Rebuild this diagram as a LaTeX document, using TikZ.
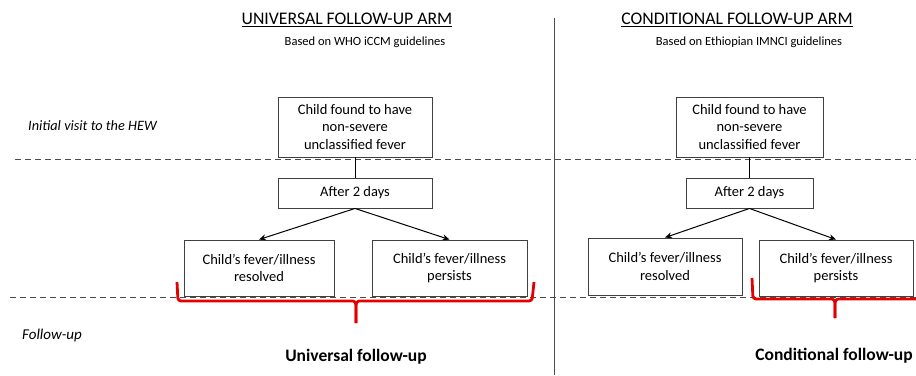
\documentclass[tikz,border=0pt]{standalone}
\usepackage{fontspec}
\setmainfont{Carlito}
\usetikzlibrary{arrows.meta}
\begin{document}
\begin{tikzpicture}[x=1pt,y=-1pt,
  box/.style={draw=black!75,line width=0.9pt,fill=white,align=center,font=\fontsize{14.5}{17.5}\selectfont,inner sep=0pt},
  conn/.style={black,line width=1pt},
  arr/.style={conn,-{Stealth[length=7pt,width=6pt]}},
  divider/.style={dashed,black!70,line width=1pt,dash pattern=on 6pt off 4pt},
  brace/.style={red!90!black,line width=2.8pt,rounded corners=3pt},
  lbl/.style={font=\itshape\fontsize{14.3}{16}\selectfont,anchor=west,inner sep=0pt},
  ttl/.style={font=\fontsize{17.7}{20}\selectfont,inner sep=0pt},
  sub/.style={font=\fontsize{12.5}{14}\selectfont,inner sep=0pt},
  res/.style={font=\bfseries\fontsize{17.5}{20}\selectfont,inner sep=0pt}]
\useasboundingbox (0,0) rectangle (916,375);
% divider lines
\coordinate (d1a) at (15,159); \coordinate (d1b) at (916,159);
\coordinate (d2a) at (10,297); \coordinate (d2b) at (916,297);
\draw[divider] (d1a) -- (d1b);
\draw[divider] (d2a) -- (d2b);
\coordinate (va) at (554,18); \coordinate (vb) at (554,375);
\draw[black!70,line width=1pt] (va) -- (vb);
% titles
\node[ttl] (t1) at (347,20) {\underline{UNIVERSAL FOLLOW-UP ARM}};
\node[sub] (s1) at (365,42) {Based on WHO iCCM guidelines};
\node[ttl] (t2) at (737,20) {\underline{CONDITIONAL FOLLOW-UP ARM}};
\node[sub] (s2) at (749,42) {Based on Ethiopian IMNCI guidelines};
% side labels
\node[lbl] (l1) at (28,126) {Initial visit to the HEW};
\node[lbl,font=\itshape\fontsize{15}{17}\selectfont] (l2) at (22,335) {Follow-up};
% left arm
\node[box,minimum width=154pt,minimum height=60pt] (a1) at (355,127) {Child found to have\\non-severe\\unclassified fever};
\node[box,minimum width=154pt,minimum height=30pt] (a2) at (355,193) {After 2 days};
\node[box,minimum width=150pt,minimum height=56pt] (a3) at (259,268) {Child’s fever/illness\\resolved};
\node[box,minimum width=155pt,minimum height=56pt] (a4) at (449.5,268) {Child’s fever/illness\\persists};
\draw[conn] (a1) -- (a2);
\draw[arr] (a2.south) -- (a3.north);
\draw[arr] (a2.south) -- (a4.north);
% right arm
\node[box,minimum width=147pt,minimum height=60pt] (b1) at (749.5,127) {Child found to have\\non-severe\\unclassified fever};
\node[box,minimum width=127pt,minimum height=30pt] (b2) at (749.5,193) {After 2 days};
\node[box,minimum width=154pt,minimum height=57pt] (b3) at (665,266.5) {Child’s fever/illness\\resolved};
\node[box,minimum width=154pt,minimum height=56pt] (b4) at (836,268) {Child’s fever/illness\\persists};
\draw[conn] (b1) -- (b2);
\draw[arr] (b2.south) -- (b3.north);
\draw[arr] (b2.south) -- (b4.north);
% braces
\coordinate (ba1) at (177,282); \coordinate (ba2) at (178,301); \coordinate (ba3) at (350,301);
\coordinate (ba4) at (356,323); \coordinate (ba5) at (362,301); \coordinate (ba6) at (532,301); \coordinate (ba7) at (534,282);
\draw[brace] (ba1) -- (ba2) -- (ba3) .. controls (355,301) and (356,303) .. (356,308) -- (ba4);
\draw[brace] (ba4) -- (356,308) .. controls (356,303) and (357,301) .. (ba5) -- (ba6) -- (ba7);
\coordinate (bb1) at (752,278); \coordinate (bb2) at (753,299); \coordinate (bb3) at (829,299);
\coordinate (bb4) at (835,318); \coordinate (bb5) at (841,299); \coordinate (bb6) at (916,299);
\draw[brace] (bb1) -- (bb2) -- (bb3) .. controls (834,299) and (835,301) .. (835,306) -- (bb4);
\draw[brace] (bb4) -- (835,306) .. controls (835,301) and (836,299) .. (bb5) -- (bb6);
% results
\node[res] (r1) at (356,357) {Universal follow-up};
\node[res] (r2) at (834,356) {Conditional follow-up};
\end{tikzpicture}
\end{document}
